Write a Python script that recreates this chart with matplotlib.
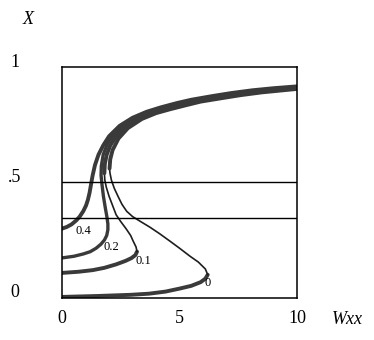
import matplotlib
matplotlib.use("Agg")
import matplotlib.pyplot as plt
from matplotlib.transforms import ScaledTranslation

# curve labels (external field h)
curve_labels = ["0", "0.1", "0.2", "0.4"]

# h = 0 : lower stable branch, unstable middle branch, upper stable branch
w_h0 = [0, 1.5, 2.9, 3.7, 4.4, 5.0, 5.5, 5.9, 6.1, 6.2,
        6.1, 5.8, 5.45, 5.0, 4.6, 4.15, 3.74, 3.35, 3.0, 2.75, 2.55, 2.38, 2.22, 2.1, 2.04, 2.02,
        2.05, 2.15, 2.4, 2.8, 3.4, 4.0, 4.6, 5.3, 5.9, 6.8, 7.6, 8.5, 9.3, 10]
x_h0 = [0.004, 0.008, 0.013, 0.018, 0.027, 0.04, 0.052, 0.068, 0.083, 0.10,
        0.125, 0.155, 0.18, 0.215, 0.245, 0.278, 0.306, 0.33, 0.352, 0.375, 0.405, 0.44, 0.475, 0.51, 0.54, 0.56,
        0.60, 0.64, 0.69, 0.735, 0.775, 0.80, 0.817, 0.835, 0.85, 0.865, 0.878, 0.89, 0.898, 0.905]

# h = 0.1
w_h1 = [0, 0.7, 1.3, 1.8, 2.3, 2.7, 2.95, 3.12, 3.19,
        3.15, 3.03, 2.92, 2.72, 2.5, 2.3, 2.15, 2.0, 1.88, 1.82, 1.8,
        1.82, 1.9, 2.05, 2.3, 2.75, 3.3, 3.9, 4.5, 5.2, 5.8, 6.7, 7.5, 8.4, 9.2, 10]
x_h1 = [0.108, 0.113, 0.12, 0.13, 0.145, 0.16, 0.172, 0.185, 0.20,
        0.22, 0.245, 0.27, 0.30, 0.33, 0.36, 0.40, 0.44, 0.48, 0.51, 0.54,
        0.58, 0.62, 0.66, 0.70, 0.745, 0.78, 0.803, 0.82, 0.838, 0.852, 0.868, 0.881, 0.893, 0.902, 0.909]

# h = 0.2
w_h2 = [0, 0.5, 0.9, 1.2, 1.45, 1.65, 1.8, 1.9, 1.95, 1.95, 1.91, 1.84, 1.76, 1.7, 1.66,
        1.67, 1.75, 1.92, 2.15, 2.6, 3.2, 3.8, 4.4, 5.1, 5.7, 6.6, 7.4, 8.3, 9.2, 10]
x_h2 = [0.173, 0.18, 0.19, 0.20, 0.215, 0.232, 0.25, 0.27, 0.295, 0.32, 0.35, 0.39, 0.44, 0.49, 0.53,
        0.57, 0.62, 0.665, 0.70, 0.745, 0.782, 0.806, 0.824, 0.842, 0.856, 0.871, 0.884, 0.896, 0.905, 0.912]

# h = 0.4
w_h4 = [0, 0.2, 0.4, 0.6, 0.75, 0.9, 1.02, 1.1, 1.17, 1.23, 1.3, 1.4, 1.55, 1.75, 2.0,
        2.45, 3.0, 3.6, 4.2, 4.9, 5.5, 6.4, 7.2, 8.1, 9.0, 10]
x_h4 = [0.30, 0.307, 0.318, 0.335, 0.352, 0.375, 0.40, 0.425, 0.455, 0.49, 0.53, 0.575, 0.62, 0.66, 0.70,
        0.745, 0.78, 0.806, 0.825, 0.844, 0.858, 0.874, 0.887, 0.899, 0.908, 0.916]

# index range of the unstable (thin) part of each curve
thin_h0 = (9, 25)
thin_h1 = (8, 19)

# reference lines
hlines = [0.5, 0.345]

xticks = [0, 5, 10]
yticks = [0, 0.5, 1]
ytick_labels = ["0", ".5", "1"]

plt.rcParams["font.family"] = ["Liberation Serif", "DejaVu Serif"]

fig = plt.figure(figsize=(3.74, 3.40), dpi=100)
ax = fig.add_axes([0.166, 0.124, 0.628, 0.679])

thick = dict(color="#3a3a3a", lw=2.8, solid_capstyle="round")
thin = dict(color="#1e1e1e", lw=1.2)

for w, x, cut in [(w_h0, x_h0, thin_h0), (w_h1, x_h1, thin_h1)]:
    a, b = cut
    ax.plot(w[:a + 1], x[:a + 1], **thick)
    ax.plot(w[a:b + 1], x[a:b + 1], **thin)
    ax.plot(w[b:], x[b:], **thick)

ax.plot(w_h2, x_h2, color="#3a3a3a", lw=2.4)
ax.plot(w_h4, x_h4, color="#3a3a3a", lw=2.8)

for y in hlines:
    ax.axhline(y, color="black", lw=1.0)

# curve labels
lab_w = [6.21, 3.45, 2.08, 0.89]
lab_x = [0.065, 0.16, 0.22, 0.29]
for t, lw_, lx_ in zip(curve_labels, lab_w, lab_x):
    ax.text(lw_, lx_, t, fontsize=9, ha="center", va="center")

ax.set_xlim(0, 10)
ax.set_ylim(0, 1)
ax.set_xticks(xticks)
ax.set_xticklabels([str(v) for v in xticks], fontsize=13)
ax.set_yticks(yticks)
ax.set_yticklabels(ytick_labels, fontsize=13)
ax.tick_params(axis="x", length=0, pad=9)
ax.tick_params(axis="y", length=0, pad=34)
for lbl in ax.get_yticklabels():
    lbl.set_horizontalalignment("center")
    lbl.set_transform(lbl.get_transform() + ScaledTranslation(0, 5 / 72, fig.dpi_scale_trans))

for s in ax.spines.values():
    s.set_linewidth(1.1)

fig.text(28 / 374, 1 - 20 / 340, "X", fontsize=13, style="italic", ha="center", va="center")
fig.text(347 / 374, 1 - 319 / 340, "Wxx", fontsize=13, style="italic", ha="center", va="center")

fig.savefig("out.png", dpi=100)
